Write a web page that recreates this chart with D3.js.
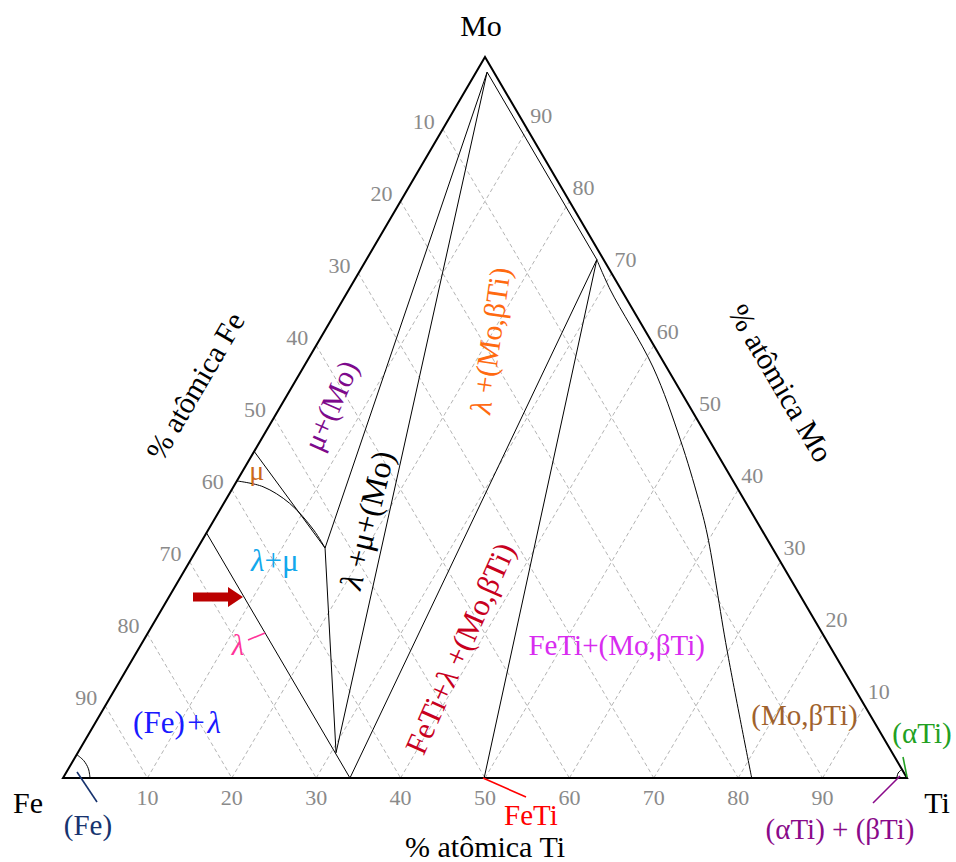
<!DOCTYPE html>
<html>
<head>
<meta charset="utf-8">
<script src="https://cdn.jsdelivr.net/npm/d3@7/dist/d3.min.js"></script>
<style>
  html, body { margin: 0; padding: 0; background: #fff; }
  svg { display: block; }
  text { font-family: "Liberation Serif", "Times New Roman", serif; }
</style>
</head>
<body>
<svg id="chart" width="956" height="862"></svg>
<script>
// Fe–Mo–Ti isothermal section. Compositions are [at.% Ti, at.% Mo]; Fe is the balance.
const tickValues = [10, 20, 30, 40, 50, 60, 70, 80, 90];

// λ Laves phase, Fe2Mo – Fe2Ti line
const lambdaLine = [[0, 34.0], [34.0, 0]];
// μ phase field boundaries
const muUpper = [[0, 45.3], [15.1, 31.9]];
const muLower = [[0, 41.2], [3.5, 40.4], [7.8, 38.1], [12.5, 34.4], [15.1, 31.9]];
// three-phase triangle λ + μ + (Mo)
const tieMoMu = [[1.3, 97.9], [15.1, 31.9]];
const tieMoLambda = [[1.3, 97.9], [30.6, 3.5]];
const tieMuLambda = [[15.1, 31.9], [30.6, 3.5]];
// three-phase triangle FeTi + λ + (Mo,βTi)
const tieLambdaBcc = [[34.0, 0], [27.3, 71.9]];
const tieFeTiBcc = [[49.9, 0], [27.3, 71.9]];
// (Mo,βTi) solvus
const bccSolvusUpper = [[1.3, 97.9], [27.3, 71.9]];
const bccSolvusLower = [[27.3, 71.9], [31.0, 67.7], [41.4, 57.0], [49.7, 46.9], [56.0, 38.6], [59.5, 33.7], [69.8, 17.75], [81.6, 0]];
// terminal solid solutions at the corners
const feCorner = [[3.2, 0], [2.37, 1.28], [1.25, 2.41], [0, 3.25]];
const tiCorner = [[98.8, 0], [98.6, 0.69], [98.8, 1.2]];

const boundaries = [lambdaLine, muUpper, tieMoMu, tieMoLambda, tieMuLambda,
  tieLambdaBcc, tieFeTiBcc, bccSolvusUpper];
const curvedBoundaries = [muLower, bccSolvusLower, feCorner, tiCorner];

const svg = d3.select("#chart");

// Ti along the base, Mo up towards the apex
const xTi = d3.scaleLinear().domain([0, 100]).range([63, 907]);
const yMo = d3.scaleLinear().domain([0, 100]).range([778, 57]);
const px = d => xTi(d[0] + d[1] / 2);
const py = d => yMo(d[1]);

const straight = d3.line().x(px).y(py);
const smooth = d3.line().x(px).y(py).curve(d3.curveCatmullRom.alpha(0.5));

// grid: iso-Fe lines and iso-Ti lines
const grid = svg.append("g")
  .attr("stroke", "#b4b4b4").attr("stroke-width", 1)
  .attr("stroke-dasharray", "4,3").attr("fill", "none");
tickValues.forEach(v => {
  grid.append("path").attr("d", straight([[0, 100 - v], [100 - v, 0]]));
  grid.append("path").attr("d", straight([[v, 0], [v, 100 - v]]));
});

// phase boundaries
const bnd = svg.append("g").attr("stroke", "#000").attr("stroke-width", 1).attr("fill", "none");
boundaries.forEach(b => bnd.append("path").attr("d", straight(b)));
curvedBoundaries.forEach(b => bnd.append("path").attr("d", smooth(b)));

// triangle frame
svg.append("path")
  .attr("d", straight([[0, 0], [100, 0], [0, 100], [0, 0]]) + "Z")
  .attr("fill", "none").attr("stroke", "#000").attr("stroke-width", 2)
  .attr("stroke-linejoin", "miter");

// tick labels
const ticks = svg.append("g").attr("fill", "#8a8a8a").attr("font-size", 22)
  .attr("text-anchor", "middle").attr("dominant-baseline", "central");
tickValues.forEach(v => {
  // % Ti on the base
  ticks.append("text").attr("x", px([v, 0])).attr("y", py([v, 0]) + 19).text(v);
  // % Fe on the left edge
  ticks.append("text").attr("x", px([0, 100 - v]) - 19).attr("y", py([0, 100 - v]) - 8).text(v);
  // % Mo on the right edge
  ticks.append("text").attr("x", px([100 - v, v]) + 14).attr("y", py([100 - v, v]) - 14).text(v);
});

// corner and axis titles
const titles = svg.append("g").attr("fill", "#000").attr("font-size", 30)
  .attr("text-anchor", "middle").attr("dominant-baseline", "central");
titles.append("text").attr("x", 481).attr("y", 25).text("Mo");
titles.append("text").attr("x", 28).attr("y", 802).text("Fe");
titles.append("text").attr("x", 937).attr("y", 802).text("Ti");
const edgeAngle = Math.atan2(yMo(100) - yMo(0), xTi(50) - xTi(0)) * 180 / Math.PI;
titles.append("text")
  .attr("transform", `translate(195,386) rotate(${edgeAngle})`).text("% atômica Fe");
titles.append("text")
  .attr("transform", `translate(781,383) rotate(${-edgeAngle})`).text("% atômica Mo");
titles.append("text").attr("x", 485).attr("y", 846).text("% atômica Ti");

// phase field labels, placed by composition
function label(pos, parts, color, size, angle) {
  const t = svg.append("text")
    .attr("transform", `translate(${px(pos)},${py(pos)}) rotate(${angle || 0})`)
    .attr("text-anchor", "middle").attr("dominant-baseline", "central")
    .attr("fill", color).attr("font-size", size);
  parts.forEach(p => {
    const s = t.append("tspan").text(p.t);
    if (p.i) s.attr("font-style", "italic");
  });
  return t;
}
label([9.6, 7.8], [{t: "(Fe)\u200a+\u200a"}, {t: "λ", i: 1}], "#1a1aff", 31);
label([10.0, 30.2], [{t: "λ", i: 1}, {t: "+μ"}], "#12a8ec", 31);
label([1.6, 42.7], [{t: "μ"}], "#cc6a1a", 28);
label([5.8, 51.7], [{t: "μ+(Mo)"}], "#7d0a8c", 30, -66);
label([18.1, 35.8], [{t: "λ", i: 1}, {t: " +μ+(Mo)"}], "#000", 32, -76);
label([20.2, 60.7], [{t: "λ", i: 1}, {t: " +(Mo,βTi)"}], "#ff6a10", 30, -82);
label([38.0, 18.0], [{t: "FeTi+"}, {t: "λ", i: 1}, {t: " +(Mo,βTi)"}], "#c8001e", 31, -66);
label([56.4, 18.4], [{t: "FeTi+(Mo,βTi)"}], "#d82cf0", 29);
label([83.5, 8.7], [{t: "(Mo,βTi)"}], "#a0622d", 29);

// single-phase callouts outside the fields
const callouts = [
  {t: "(Fe)", c: "#17336e", x: 88, y: 825, l: [[77, 772], [97, 802]]},
  {t: "λ", c: "#ff3399", x: 238, y: 645, l: [[248, 640], [265, 633]], i: 1},
  {t: "FeTi", c: "#ff0000", x: 531, y: 815, l: [[483, 778], [526, 797]]},
  {t: "(αTi)", c: "#22a022", x: 922, y: 733, l: [[903, 757], [907, 777]]},
  {t: "(αTi) + (βTi)", c: "#8a0a8a", x: 840, y: 829, l: [[873, 803], [900, 776]]}
];
callouts.forEach(c => {
  svg.append("line").attr("x1", c.l[0][0]).attr("y1", c.l[0][1])
    .attr("x2", c.l[1][0]).attr("y2", c.l[1][1])
    .attr("stroke", c.c).attr("stroke-width", 1.6);
  svg.append("text").attr("x", c.x).attr("y", c.y)
    .attr("text-anchor", "middle").attr("dominant-baseline", "central")
    .attr("fill", c.c).attr("font-size", 29)
    .attr("font-style", c.i ? "italic" : null).text(c.t);
});

// arrow pointing at the λ line
svg.append("path")
  .attr("d", "M193,592.5 L228,592.5 L228,587 L243,597 L228,607 L228,601.5 L193,601.5 Z")
  .attr("fill", "#bb0000");
</script>
</body>
</html>
